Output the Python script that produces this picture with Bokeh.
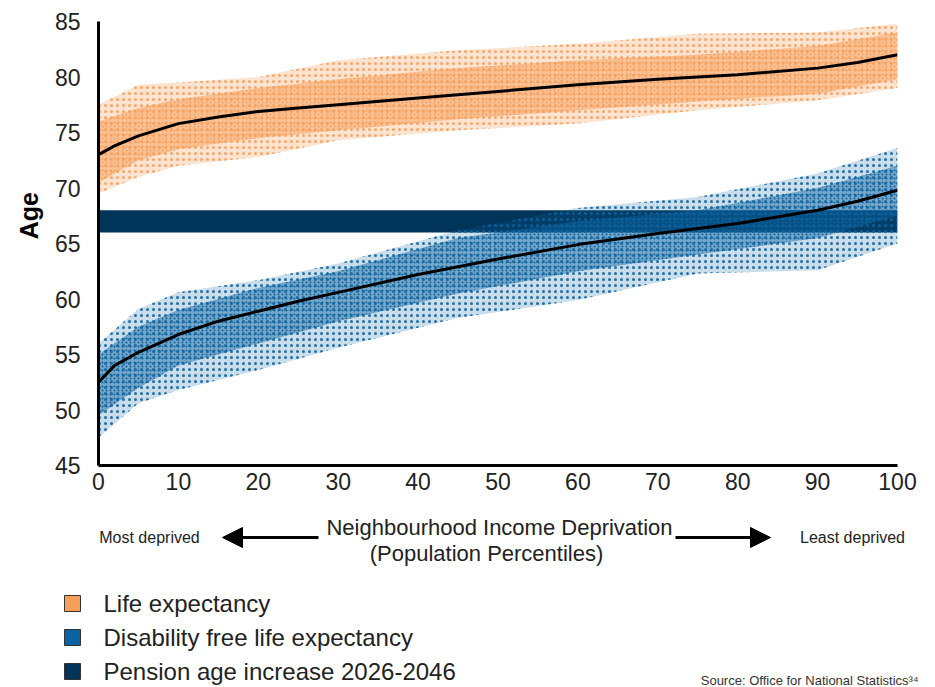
from bokeh.plotting import figure
from bokeh.models import Range1d, FixedTicker, Arrow, NormalHead
from bokeh.layouts import column
from bokeh.embed import file_html
from bokeh.resources import INLINE
from bokeh.core.properties import value

# ---------------- data ----------------
pct = [0, 2, 5, 10, 15, 20, 25, 30, 40, 50, 60, 70, 80, 90, 95, 100]
le_trend = [73.0, 73.8, 74.7, 75.8, 76.4, 76.9, 77.2, 77.5, 78.1, 78.7, 79.3, 79.8, 80.2, 80.8, 81.3, 82.0]
dfle_trend = [52.5, 54.0, 55.2, 56.8, 58.0, 58.9, 59.8, 60.6, 62.2, 63.6, 64.9, 65.9, 66.8, 68.0, 68.8, 69.8]

env_x = [0, 5, 10, 20, 30, 45, 60, 75, 90, 100]
le_outer_lo = [69.5, 71.0, 72.0, 72.8, 74.3, 75.2, 75.8, 77.0, 77.9, 79.0]
le_outer_hi = [77.5, 79.3, 79.5, 80.0, 81.5, 82.4, 83.0, 83.9, 84.0, 84.8]
le_core_lo = [70.5, 72.5, 73.5, 74.5, 75.2, 76.2, 77.0, 77.8, 78.5, 79.8]
le_core_hi = [76.0, 77.2, 78.0, 79.0, 79.8, 80.8, 81.5, 82.0, 82.8, 84.0]

dfle_outer_lo = [47.5, 50.6, 51.8, 53.6, 55.6, 58.3, 59.9, 62.3, 62.6, 65.0]
dfle_outer_hi = [56.0, 59.1, 60.6, 61.7, 63.2, 66.2, 68.2, 69.2, 71.3, 73.6]
dfle_core_lo = [49.5, 52.0, 54.0, 56.0, 58.0, 60.5, 62.5, 64.0, 65.5, 67.5]
dfle_core_hi = [55.0, 57.5, 59.0, 61.0, 62.5, 65.5, 67.0, 68.0, 70.0, 72.0]

pension_from = 66
pension_to = 68
x_ticks = [0, 10, 20, 30, 40, 50, 60, 70, 80, 90, 100]
y_ticks = [45, 50, 55, 60, 65, 70, 75, 80, 85]

legend_labels = ["Life expectancy", "Disability free life expectancy", "Pension age increase 2026-2046"]
axis_title = ["Neighbourhood Income Deprivation", "(Population Percentiles)"]
side_labels = ["Most deprived", "Least deprived"]
y_title = "Age"
source_text = "Source: Office for National Statistics\u00b3\u2074"

ORANGE = "#F79E59"
BLUE = "#0B63A1"
NAVY = "#003459"
FONT = "Liberation Sans"

# ---------------- main chart ----------------
p = figure(width=935, height=508, x_range=Range1d(0, 100), y_range=Range1d(45, 85),
           output_backend="svg", toolbar_location=None,
           min_border_left=98, min_border_right=38, min_border_top=21, min_border_bottom=43)
p.outline_line_color = None
p.grid.visible = False
p.background_fill_color = "white"
p.frame_align = False

# life expectancy cloud
p.varea(x=env_x, y1=le_outer_lo, y2=le_outer_hi, fill_color=ORANGE, fill_alpha=0.28,
        hatch_pattern="dot", hatch_color=ORANGE, hatch_scale=6, hatch_weight=2, hatch_alpha=0.9)
p.varea(x=env_x, y1=le_core_lo, y2=le_core_hi, fill_color=ORANGE, fill_alpha=0.5,
        hatch_pattern="dot", hatch_color=ORANGE, hatch_scale=4, hatch_weight=2)

# pension band
p.quad(left=[0], right=[100], bottom=[pension_from], top=[pension_to],
       fill_color=NAVY, line_color=None)

# disability free life expectancy cloud
p.varea(x=env_x, y1=dfle_outer_lo, y2=dfle_outer_hi, fill_color=BLUE, fill_alpha=0.22,
        hatch_pattern="dot", hatch_color=BLUE, hatch_scale=6, hatch_weight=2, hatch_alpha=0.9)
p.varea(x=env_x, y1=dfle_core_lo, y2=dfle_core_hi, fill_color=BLUE, fill_alpha=0.45,
        hatch_pattern="dot", hatch_color=BLUE, hatch_scale=4, hatch_weight=2)

# trend lines
p.line(pct, le_trend, line_color="black", line_width=3)
p.line(pct, dfle_trend, line_color="black", line_width=3)

for ax in (p.xaxis[0], p.yaxis[0]):
    ax.axis_line_color = "black"
    ax.axis_line_width = 3
    ax.major_tick_line_color = None
    ax.minor_tick_line_color = None
    ax.major_label_text_font = FONT
    ax.major_label_text_font_size = "23px"
    ax.major_label_text_color = "#222222"

p.xaxis.ticker = FixedTicker(ticks=x_ticks)
p.yaxis.ticker = FixedTicker(ticks=y_ticks)
p.xaxis.major_label_standoff = 1
p.yaxis.major_label_standoff = 12

# "Age" title; leading no-break spaces lift it slightly above the frame centre, as in the reference
p.yaxis.axis_label = "\u00a0" * 8 + y_title
p.yaxis.axis_label_text_font = FONT
p.yaxis.axis_label_text_font_style = "bold"
p.yaxis.axis_label_text_font_size = "25px"
p.yaxis.axis_label_text_color = "black"
p.yaxis.axis_label_standoff = 9

# ---------------- lower panel: axis title, arrows, legend ----------------
q = figure(width=935, height=179, x_range=Range1d(0, 935), y_range=Range1d(179, 0),
           output_backend="svg", toolbar_location=None,
           min_border=0)
q.frame_align = False
q.axis.visible = False
q.grid.visible = False
q.outline_line_color = None

q.text(x=[499, 486], y=[19, 45], text=axis_title, text_font=value(FONT),
       text_font_size="22px", text_align="center", text_baseline="middle", text_color="#222222")
q.text(x=[149, 852], y=[29, 29], text=side_labels, text_font=value(FONT),
       text_font_size="16px", text_align="center", text_baseline="middle", text_color="#222222")

q.add_layout(Arrow(x_start=318, y_start=29, x_end=222, y_end=29, line_width=3, line_color="black",
                   end=NormalHead(size=20, fill_color="black", line_color="black")))
q.add_layout(Arrow(x_start=675, y_start=29, x_end=770, y_end=29, line_width=3, line_color="black",
                   end=NormalHead(size=20, fill_color="black", line_color="black")))

legend_y = [95, 129, 163]
q.rect(x=[72, 72, 72], y=legend_y, width=16, height=16, width_units="screen", height_units="screen",
       fill_color=[ORANGE, BLUE, NAVY], line_color="#333333", line_width=1)
q.text(x=[103, 103, 103], y=legend_y, text=legend_labels, text_font=value(FONT),
       text_font_size="24px", text_baseline="middle", text_color="#222222")

q.text(x=[918], y=[179], text=[source_text], text_font=value(FONT), text_font_size="13px",
       text_align="right", text_baseline="bottom", text_color="#333333")

layout = column(p, q, spacing=0)
open("out.html", "w").write(file_html(layout, INLINE))
